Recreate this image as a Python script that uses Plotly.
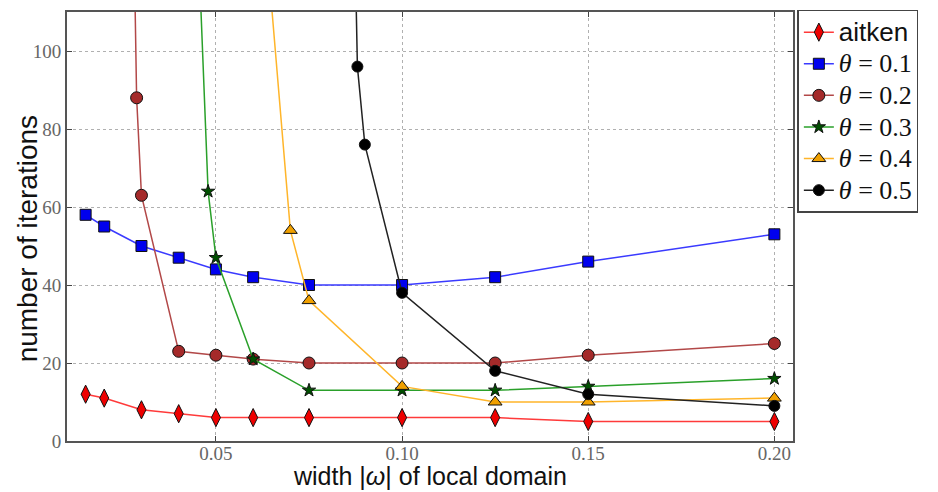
import plotly.graph_objects as go

# ---- data ----
x_common = [0.015, 0.02, 0.03, 0.04, 0.05, 0.06, 0.075, 0.10, 0.125, 0.15, 0.20]
y_aitken = [12, 11, 8, 7, 6, 6, 6, 6, 6, 5, 5]
y_t01 = [58, 55, 50, 47, 44, 42, 40, 40, 42, 46, 53]

x_t02 = [0.0278, 0.0287, 0.03, 0.04, 0.05, 0.06, 0.075, 0.10, 0.125, 0.15, 0.20]
y_t02 = [140, 88, 63, 23, 22, 21, 20, 20, 20, 22, 25]

x_t03 = [0.0455, 0.0479, 0.05, 0.06, 0.075, 0.10, 0.125, 0.15, 0.20]
y_t03 = [122, 64, 47, 21, 13, 13, 13, 14, 16]

x_t04 = [0.065, 0.07, 0.075, 0.10, 0.125, 0.15, 0.20]
y_t04 = [111, 54, 36, 14, 10, 10, 11]

x_t05 = [0.0865, 0.088, 0.09, 0.10, 0.125, 0.15, 0.20]
y_t05 = [168, 96, 76, 38, 18, 12, 9]

x_ticks = [0.05, 0.10, 0.15, 0.20]
x_tick_labels = ["0.05", "0.10", "0.15", "0.20"]
y_ticks = [0, 20, 40, 60, 80, 100]

x_title = "width |<i>ω</i>| of local domain"
y_title = "number of iterations"

SERIF = "Liberation Serif"
SANS = "Liberation Sans"


def theta_name(v):
    return f'<span style="font-family:{SERIF};font-size:26px"><i>θ</i> = {v}</span>'


series = [
    dict(x=x_common, y=y_aitken,
         name=f'<span style="font-family:{SANS};font-size:26px">aitken</span>',
         line="#ff3a3a", fill="#ee0000", symbol="diamond-tall", size=13),
    dict(x=x_common, y=y_t01, name=theta_name("0.1"), line="#3a3aff", fill="#0000ee",
         symbol="square", size=11),
    dict(x=x_t02, y=y_t02, name=theta_name("0.2"), line="#b24848", fill="#a52a2a",
         symbol="circle", size=12),
    dict(x=x_t03, y=y_t03, name=theta_name("0.3"), line="#2aa02a", fill="#005000",
         symbol="star", size=10),
    dict(x=x_t04, y=y_t04, name=theta_name("0.4"), line="#ffb52a", fill="#f0a000",
         symbol="triangle-up", size=12),
    dict(x=x_t05, y=y_t05, name=theta_name("0.5"), line="#222222", fill="#000000",
         symbol="circle", size=11),
]

fig = go.Figure()
for s in series:
    fig.add_trace(go.Scatter(
        x=s["x"], y=s["y"], name=s["name"], mode="lines+markers",
        line=dict(color=s["line"], width=1.5),
        marker=dict(symbol=s["symbol"], size=s["size"], color=s["fill"],
                    line=dict(color="#111111", width=1)),
    ))

axis_common = dict(
    showline=True, linecolor="#555555", linewidth=2, mirror="ticks",
    ticks="inside", ticklen=5, tickcolor="#444444",
    showgrid=True, gridcolor="#b0b0b0", griddash="dot", gridwidth=1,
    zeroline=False, automargin=False,
    tickfont=dict(family=SERIF, size=19, color="#666666"),
)

fig.update_layout(
    width=938, height=492,
    margin=dict(l=67, r=145, t=10, b=51),
    paper_bgcolor="white", plot_bgcolor="white",
    showlegend=True,
    legend=dict(
        x=1.006, y=1.005, xanchor="left", yanchor="top",
        bordercolor="#444444", borderwidth=1.5,
        font=dict(family=SERIF, size=22, color="#111111"),
        tracegroupgap=0, itemsizing="trace", itemwidth=30,
        bgcolor="white",
    ),
    xaxis=dict(range=[0.01, 0.205], tickvals=x_ticks, ticktext=x_tick_labels,
               ticklabelstandoff=-6, **axis_common),
    yaxis=dict(range=[0, 110], tickvals=y_ticks, **axis_common),
    annotations=[
        dict(text=x_title, xref="paper", yref="paper", x=0.5, y=0,
             xanchor="center", yanchor="top", yshift=-19, showarrow=False,
             font=dict(family=SANS, size=25, color="#111111")),
        dict(text=y_title, xref="paper", yref="paper", x=0, y=0.47,
             xanchor="center", yanchor="middle", xshift=-40, textangle=-90,
             showarrow=False,
             font=dict(family=SANS, size=28, color="#111111")),
    ],
)

fig.write_html("out.html")
